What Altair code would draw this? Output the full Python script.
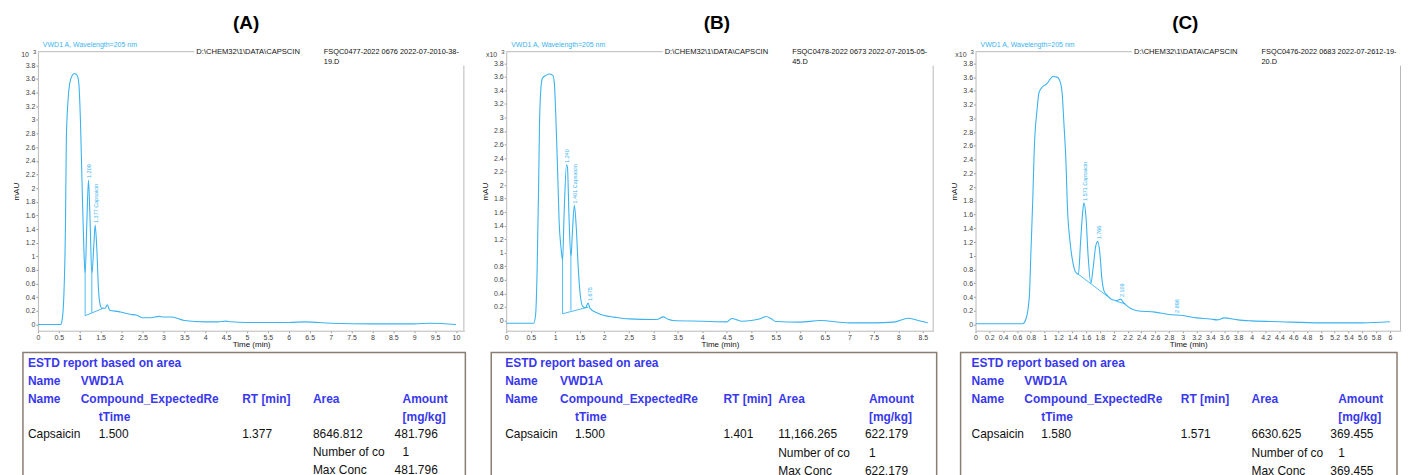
import altair as alt
import pandas as pd

# ---------------- colours / fonts ----------------
LINE = "#3ab3f0"
BLUE = "#3838ec"
FRAME = "#b9b9b9"
BOX = "#8a7d72"
FONT = "Liberation Sans"

# ---------------- texts ----------------
PANEL_TITLES = ["(A)", "(B)", "(C)"]
SIGNAL = "VWD1 A, Wavelength=205 nm"
DATA_PATH = "D:\\CHEM32\\1\\DATA\\CAPSCIN"
FILE_LINE1 = ["FSQC0477-2022 0676 2022-07-2010-38-",
              "FSQC0478-2022 0673 2022-07-2015-05-",
              "FSQC0476-2022 0683 2022-07-2612-19-"]
FILE_LINE2 = ["19.D", "45.D", "20.D"]
EXP_PREFIX = ["10", "x10", "x10"]
EXP_POWER = "3"

TABLE_TITLE = "ESTD report based on area"
SIGNAL_ROW = ["Name", "VWD1A"]
HEADER_ROW = ["Name", "Compound_ExpectedRe", "RT [min]", "Area", "Amount"]
HEADER_ROW2 = ["tTime", "[mg/kg]"]
RESULT_ROWS = [["Capsaicin", "1.500", "1.377", "8646.812", "481.796"],
               ["Capsaicin", "1.500", "1.401", "11,166.265", "622.179"],
               ["Capsaicin", "1.580", "1.571", "6630.625", "369.455"]]
SUMMARY_LABELS = ["Number of co", "Max Conc"]
SUMMARY_VALUES = [["1", "481.796"], ["1", "622.179"], ["1", "369.455"]]

# ---------------- chromatogram data ----------------
A_time = [0, 0.54, 0.58, 0.62, 0.66, 0.68, 0.72, 0.76, 0.82, 0.88, 0.94, 0.98, 1.02, 1.06,
          1.10, 1.13, 1.17, 1.21, 1.25, 1.29, 1.34, 1.37, 1.41, 1.45, 1.49, 1.53, 1.61, 1.66,
          1.72, 1.93, 2.0, 2.2, 2.35, 2.5, 2.7, 2.9, 3.0, 3.2, 3.5, 4.0, 4.3, 4.5, 4.6, 5.0,
          6.0, 6.4, 7.0, 8.0, 9.0, 9.4, 10.0]
A_mau = [0, 0, 0.07, 0.41, 1.48, 2.70, 3.28, 3.53, 3.65, 3.68, 3.65, 3.53, 2.94, 1.97,
         1.10, 0.73, 1.48, 2.12, 1.48, 0.73, 1.19, 1.46, 1.10, 0.51, 0.29, 0.24, 0.24, 0.29,
         0.21, 0.19, 0.18, 0.15, 0.14, 0.10, 0.10, 0.12, 0.11, 0.11, 0.06, 0.04, 0.04, 0.05, 0.04, 0.03,
         0.03, 0.04, 0.02, 0.01, 0.01, 0.02, 0.0]

B_time = [0, 0.56, 0.60, 0.63, 0.66, 0.68, 0.71, 0.74, 0.81, 0.88, 0.95, 0.98, 1.01, 1.05,
          1.08, 1.12, 1.15, 1.18, 1.23, 1.25, 1.28, 1.32, 1.35, 1.39, 1.43, 1.47, 1.51, 1.56,
          1.62, 1.67, 1.71, 1.86, 2.0, 2.2, 2.5, 3.0, 3.1, 3.2, 3.3, 3.4, 4.0, 4.5, 4.6, 4.8,
          5.0, 5.2, 5.3, 5.4, 5.5, 6.0, 6.4, 7.0, 7.5, 7.9, 8.2, 8.4, 8.6]
B_mau = [-0.04, -0.04, 0.09, 0.72, 1.94, 2.91, 3.45, 3.58, 3.62, 3.64, 3.62, 3.52, 3.06, 2.18,
         1.45, 1.06, 0.89, 1.55, 2.30, 2.26, 1.55, 0.93, 1.30, 1.70, 1.36, 0.77, 0.38, 0.21,
         0.19, 0.26, 0.18, 0.11, 0.073, 0.05, 0.024, 0.015, 0.02, 0.054, 0.02, 0.0, -0.01, -0.02, 0.03, -0.01,
         0.0, 0.03, 0.06, 0.03, -0.015, -0.024, 0.0, -0.034, -0.034, -0.024, 0.034, 0.0, -0.034]

C_time = [0, 0.68, 0.73, 0.78, 0.80, 0.83, 0.85, 0.89, 0.92, 0.97, 1.03, 1.08, 1.12, 1.18,
          1.21, 1.25, 1.28, 1.31, 1.33, 1.37, 1.41, 1.45, 1.49, 1.52, 1.55, 1.57, 1.60, 1.63,
          1.67, 1.70, 1.74, 1.77, 1.80, 1.83, 1.86, 1.91, 1.98, 2.05, 2.10, 2.15, 2.34, 2.6,
          2.8, 3.0, 3.2, 3.4, 3.5, 3.6, 3.8, 4.0, 4.4, 5.0, 5.6, 6.0]
C_mau = [0.01, 0.01, 0.08, 0.42, 1.0, 1.86, 2.54, 3.12, 3.38, 3.46, 3.50, 3.57, 3.61, 3.60,
         3.57, 3.41, 2.92, 2.35, 1.72, 1.19, 0.90, 0.76, 0.73, 1.19, 1.62, 1.77, 1.55, 1.0,
         0.60, 0.80, 1.14, 1.21, 1.04, 0.66, 0.49, 0.42, 0.36, 0.35, 0.37, 0.31, 0.20, 0.18,
         0.145, 0.13, 0.096, 0.08, 0.067, 0.096, 0.067, 0.053, 0.04, 0.024, 0.024, 0.04]

# integration baselines (segment id, time, value)
A_base_seg = [0, 0]
A_base_t = [1.13, 1.57]
A_base_v = [0.13, 0.24]
B_base_seg = [0, 0]
B_base_t = [1.15, 1.68]
B_base_v = [0.10, 0.20]
C_base_seg = [0, 0, 1, 1]
C_base_t = [1.49, 1.91, 2.03, 2.17]
C_base_v = [0.73, 0.41, 0.34, 0.30]

# peak drop lines
A_drop_t = [1.13, 1.29]
A_drop_lo = [0.13, 0.17]
A_drop_hi = [0.73, 0.73]
B_drop_t = [1.15, 1.32]
B_drop_lo = [0.10, 0.146]
B_drop_hi = [0.89, 0.93]
C_drop_t = []
C_drop_lo = []
C_drop_hi = []

# peak labels
A_peak_t = [1.21, 1.37]
A_peak_v = [2.12, 1.46]
A_peak_label = ["1.209", "1.377 Capsaicin"]
B_peak_t = [1.23, 1.39, 1.68]
B_peak_v = [2.30, 1.70, 0.26]
B_peak_label = ["1.240", "1.401 Capsaicin", "1.675"]
C_peak_t = [1.57, 1.77, 2.10, 2.90]
C_peak_v = [1.77, 1.21, 0.37, 0.14]
C_peak_label = ["1.571 Capsaicin", "1.766", "2.109", "2.898"]

# axis ticks
A_xticks = [i / 2 for i in range(0, 21)]
B_xticks = [i / 2 for i in range(0, 18)]
C_xticks = [round(i / 5, 1) for i in range(0, 31)]
Y_TICKS = [round(i / 5, 1) for i in range(0, 20)]

H = 280
ONE = pd.DataFrame({"k": [0]})


def txt(s, x, y, **kw):
    return alt.Chart(ONE).mark_text(text=s, font=FONT, **kw).encode(
        x=alt.value(x), y=alt.value(y))


def panel(i, w, xdom, ydom, times, vals, bseg, bt, bv, dt, dlo, dhi, pt, pv, pl, xticks,
          cols, row_dy, title_dx):
    xs = alt.Scale(domain=xdom, nice=False, zero=False)
    ys = alt.Scale(domain=ydom, nice=False, zero=False)
    xax = alt.Axis(values=xticks, format="~g", title="Time (min)", labelOverlap=False,
                   labelFlush=False, titlePadding=0)
    yax = alt.Axis(values=Y_TICKS, format="~g", title="mAU", labelOverlap=False,
                   labelFlush=False, titleX=-17, titleY=H / 2)

    df = pd.DataFrame({"t": times, "v": vals})
    line = alt.Chart(df).mark_line(color=LINE, strokeWidth=1.1, interpolate="monotone",
                                   clip=True).encode(
        x=alt.X("t:Q", scale=xs, axis=xax), y=alt.Y("v:Q", scale=ys, axis=yax))

    bdf = pd.DataFrame({"seg": bseg, "t": bt, "v": bv})
    base = alt.Chart(bdf).mark_line(color=LINE, strokeWidth=0.9).encode(
        x=alt.X("t:Q", scale=xs, axis=xax), y=alt.Y("v:Q", scale=ys, axis=yax),
        detail="seg:N")
    layers = [line, base]
    if dt:
        ddf = pd.DataFrame({"t": dt, "lo": dlo, "hi": dhi})
        layers.append(alt.Chart(ddf).mark_rule(color=LINE, strokeWidth=0.9).encode(
            x=alt.X("t:Q", scale=xs, axis=xax), y=alt.Y("lo:Q", scale=ys, axis=yax),
            y2="hi:Q"))
    pdf = pd.DataFrame({"t": pt, "v": pv, "label": pl})
    layers.append(alt.Chart(pdf).mark_text(angle=270, align="left", baseline="middle",
                                           dx=2, dy=1, fontSize=5.5, color=LINE,
                                           font=FONT).encode(
        x=alt.X("t:Q", scale=xs, axis=xax), y=alt.Y("v:Q", scale=ys, axis=yax),
        text="label:N"))

    # frame pieces and header
    layers.append(alt.Chart(ONE).mark_rule(color=FRAME, strokeWidth=1).encode(
        x=alt.value(0), x2=alt.value(157), y=alt.value(0)))
    layers.append(alt.Chart(ONE).mark_rule(color=FRAME, strokeWidth=1).encode(
        x=alt.value(w - 0.5), y=alt.value(14), y2=alt.value(H)))
    layers.append(txt(SIGNAL, 5, -7, fontSize=7, color=LINE, align="left", baseline="middle"))
    layers.append(txt(DATA_PATH, 159, 0, fontSize=7.6, color="#111", align="left",
                      baseline="middle"))
    layers.append(txt(FILE_LINE1[i], 287, 0, fontSize=7.4, color="#111", align="left",
                      baseline="middle"))
    layers.append(txt(FILE_LINE2[i], 287, 10, fontSize=7.4, color="#111", align="left",
                      baseline="middle"))
    layers.append(txt(EXP_PREFIX[i], -9, 3, fontSize=7, color="#444", align="right",
                      baseline="middle"))
    layers.append(txt(EXP_POWER, -5, 0, fontSize=6, color="#444", align="left",
                      baseline="middle"))

    # report table
    c0, c1, c1b, crt, carea, camt, camtv, bx0, bx1 = cols
    layers.append(alt.Chart(ONE).mark_rect(fillOpacity=0, stroke=BOX, strokeWidth=1.5).encode(
        x=alt.value(bx0), x2=alt.value(bx1), y=alt.value(302), y2=alt.value(432)))
    ry = [312 + row_dy, 330 + row_dy, 348.5 + row_dy, 366.5 + row_dy, 383.5 + row_dy,
          402 + row_dy, 420 + row_dy]
    bold = dict(fontSize=12, fontWeight="bold", color=BLUE, align="left", baseline="middle")
    norm = dict(fontSize=12, color="#111", align="left", baseline="middle")
    layers.append(txt(TABLE_TITLE, c0, ry[0], **bold))
    layers.append(txt(SIGNAL_ROW[0], c0, ry[1], **bold))
    layers.append(txt(SIGNAL_ROW[1], c1, ry[1], **bold))
    for s, x in zip(HEADER_ROW, [c0, c1, crt, carea, camt]):
        layers.append(txt(s, x, ry[2], **bold))
    layers.append(txt(HEADER_ROW2[0], c1b, ry[3], **bold))
    layers.append(txt(HEADER_ROW2[1], camt, ry[3], **bold))
    for s, x in zip(RESULT_ROWS[i], [c0, c1b, crt, carea, camtv]):
        layers.append(txt(s, x, ry[4], **norm))
    layers.append(txt(SUMMARY_LABELS[0], carea, ry[5], **norm))
    layers.append(txt(SUMMARY_VALUES[i][0], camt, ry[5], **norm))
    layers.append(txt(SUMMARY_LABELS[1], carea, ry[6], **norm))
    layers.append(txt(SUMMARY_VALUES[i][1], camtv, ry[6], **norm))

    return alt.layer(*layers).properties(
        width=w, height=H,
        title=alt.TitleParams(PANEL_TITLES[i], fontSize=19, fontWeight="bold", font=FONT,
                              anchor="middle", frame="group", offset=8, dx=title_dx,
                              color="#000"))


pA = panel(0, 428, [0, 10.2], [-0.09, 4.0], A_time, A_mau, A_base_seg, A_base_t, A_base_v,
           A_drop_t, A_drop_lo, A_drop_hi, A_peak_t, A_peak_v, A_peak_label, A_xticks,
           (-10, 43, 61, 205, 276, 366, 358, -15, 429), 0, -5)
pB = panel(1, 429, [0, 8.72], [-0.15, 3.97], B_time, B_mau, B_base_seg, B_base_t, B_base_v,
           B_drop_t, B_drop_lo, B_drop_hi, B_peak_t, B_peak_v, B_peak_label, B_xticks,
           (-1, 54, 69, 218, 273, 364, 360, -15, 432), 0.5, -3)
pC = panel(2, 427, [0, 6.16], [-0.09, 3.97], C_time, C_mau, C_base_seg, C_base_t, C_base_v,
           C_drop_t, C_drop_lo, C_drop_hi, C_peak_t, C_peak_v, C_peak_label, C_xticks,
           (-4, 49, 66, 206, 277, 364, 356, -15, 423), 0.5, -3)

chart = alt.hconcat(pA, pB, pC, spacing=42, bounds="flush").properties(
    padding={"left": 5, "top": 5, "right": 1, "bottom": 0}
).configure(
    font=FONT, background="white"
).configure_axis(
    labelFontSize=7, labelColor="#444", titleFontSize=8, titleFontWeight="normal",
    titleColor="#111", domainColor=FRAME, tickColor="#999", tickSize=2, labelPadding=1,
    grid=False, labelFont=FONT, titleFont=FONT
).configure_view(strokeWidth=0)

chart.save("out.html", embed_options={"renderer": "svg", "actions": False})
